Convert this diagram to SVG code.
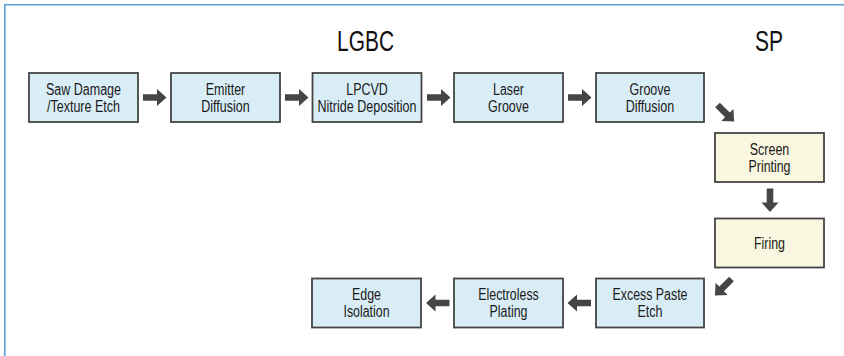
<svg xmlns="http://www.w3.org/2000/svg" width="844" height="356" viewBox="0 0 844 356">
<defs>
<style>
.bg{fill:#ffffff}
.frame{fill:none;stroke:#5b9fd6;stroke-width:1.6}
.b{fill:#d9edf6;stroke:#454545;stroke-width:1.8}
.y{fill:#f9f7e0;stroke:#454545;stroke-width:1.8}
.t{font-family:"Liberation Sans Narrow","Liberation Sans",Arial,sans-serif;font-size:16px;fill:#1a1a1a;text-anchor:middle}
.h{font-family:"Liberation Sans Narrow","Liberation Sans",Arial,sans-serif;font-size:29px;fill:#111;text-anchor:middle}
.a{fill:#454545}
</style>
<path id="arr" d="M0,-3.3 H14 V-8.5 L23.5,0 L14,8.5 V3.3 H0 Z"/>
</defs>
<rect class="bg" x="0" y="0" width="844" height="356"/>
<path class="frame" d="M4.8,356 V4.8 H844"/>
<text class="h" x="365.5" y="51" textLength="57" lengthAdjust="spacingAndGlyphs">LGBC</text>
<text class="h" x="769" y="51" textLength="28" lengthAdjust="spacingAndGlyphs">SP</text>

<g id="saw"><rect class="b" x="29" y="73" width="109" height="49"/>
<text class="t" x="83.5" y="94.5" textLength="75" lengthAdjust="spacingAndGlyphs">Saw Damage</text>
<text class="t" x="83.5" y="111.5" textLength="73" lengthAdjust="spacingAndGlyphs">/Texture Etch</text></g>
<g id="emitter"><rect class="b" x="171" y="73" width="109" height="49"/>
<text class="t" x="225.5" y="94.5" textLength="39.5" lengthAdjust="spacingAndGlyphs">Emitter</text>
<text class="t" x="225.5" y="111.5" textLength="48.5" lengthAdjust="spacingAndGlyphs">Diffusion</text></g>
<g id="lpcvd"><rect class="b" x="312.5" y="73" width="109" height="49"/>
<text class="t" x="367" y="94.5" textLength="41.5" lengthAdjust="spacingAndGlyphs">LPCVD</text>
<text class="t" x="367" y="111.5" textLength="99" lengthAdjust="spacingAndGlyphs">Nitride Deposition</text></g>
<g id="laser"><rect class="b" x="454" y="73" width="109" height="49"/>
<text class="t" x="508.5" y="94.5" textLength="31" lengthAdjust="spacingAndGlyphs">Laser</text>
<text class="t" x="508.5" y="111.5" textLength="41" lengthAdjust="spacingAndGlyphs">Groove</text></g>
<g id="groovediff"><rect class="b" x="596" y="73" width="108" height="49"/>
<text class="t" x="650" y="94.5" textLength="41" lengthAdjust="spacingAndGlyphs">Groove</text>
<text class="t" x="650" y="111.5" textLength="48.5" lengthAdjust="spacingAndGlyphs">Diffusion</text></g>
<g id="screen"><rect class="y" x="715" y="133" width="109" height="49"/>
<text class="t" x="769.5" y="154.5" textLength="39.5" lengthAdjust="spacingAndGlyphs">Screen</text>
<text class="t" x="769.5" y="171.5" textLength="42" lengthAdjust="spacingAndGlyphs">Printing</text></g>
<g id="firing"><rect class="y" x="715" y="218.5" width="109" height="49"/>
<text class="t" x="769.5" y="248.5" textLength="31" lengthAdjust="spacingAndGlyphs">Firing</text></g>
<g id="excess"><rect class="b" x="596" y="278.5" width="108" height="49"/>
<text class="t" x="650" y="299.5" textLength="75" lengthAdjust="spacingAndGlyphs">Excess Paste</text>
<text class="t" x="650" y="316.5" textLength="25" lengthAdjust="spacingAndGlyphs">Etch</text></g>
<g id="electroless"><rect class="b" x="454" y="278.5" width="109" height="49"/>
<text class="t" x="508.5" y="299.5" textLength="60.5" lengthAdjust="spacingAndGlyphs">Electroless</text>
<text class="t" x="508.5" y="316.5" textLength="38" lengthAdjust="spacingAndGlyphs">Plating</text></g>
<g id="edge"><rect class="b" x="312" y="278.5" width="109" height="49"/>
<text class="t" x="366.5" y="299.5" textLength="29" lengthAdjust="spacingAndGlyphs">Edge</text>
<text class="t" x="366.5" y="316.5" textLength="46" lengthAdjust="spacingAndGlyphs">Isolation</text></g>

<g id="connectors" class="a">
<use href="#arr" transform="translate(143,97.5)"/>
<use href="#arr" transform="translate(285,97.5)"/>
<use href="#arr" transform="translate(427,97.5)"/>
<use href="#arr" transform="translate(568,97.5)"/>
<use href="#arr" transform="translate(717.5,105) rotate(45)"/>
<use href="#arr" transform="translate(770,188.5) rotate(90)"/>
<use href="#arr" transform="translate(731.5,279) rotate(135)"/>
<use href="#arr" transform="translate(591,303) rotate(180)"/>
<use href="#arr" transform="translate(449.5,303) rotate(180)"/>
</g>
</svg>
